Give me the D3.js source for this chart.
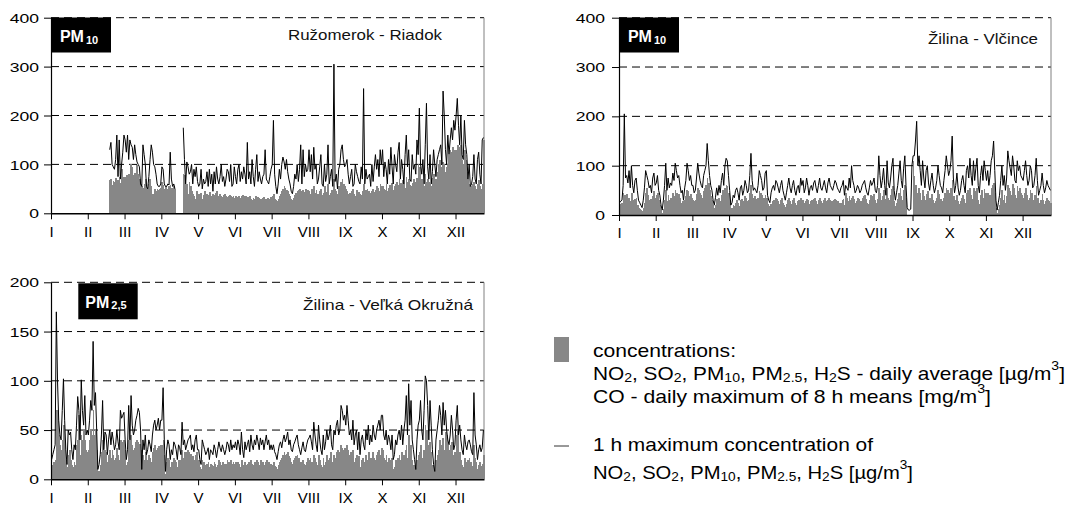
<!DOCTYPE html>
<meta charset="utf-8">
<style>
body{margin:0;background:#fff}
svg{display:block;font-family:"Liberation Sans",Arial,sans-serif}
.grid{stroke:#000;stroke-width:1;stroke-dasharray:8,5}
</style>
<body>
<script src="https://d3js.org/d3.v7.min.js"></script>
<script>

var width = 1076,
    height = 506;

var _ = null;

// x axis: one tick every 31 days, labels in roman numerals
var months = ["I","II","III","IV","V","VI","VII","VIII","IX","X","XI","XII"];
var tickDays = months.map((m, i) => i * 31);

var ticks400 = [0, 100, 200, 300, 400];
var ticks200 = [0, 50, 100, 150, 200];

// Ruzomerok - Riadok, PM10 daily average (rows = 31-day tick intervals)
var ruzAvg = [
 _,_,_,_,_,_,_,_,_,_,_,_,_,_,_,_,_,_,_,_,_,_,_,_,_,_,_,_,_,_,_,
 _,_,_,_,_,_,_,_,_,_,_,_,_,_,_,_,_,_,68,70,58,66,65,72,60,68,75,62,90,70,75,
 75,78,72,80,76,100,95,78,82,75,98,80,70,60,55,52,60,70,50,45,60,70,55,40,35,50,45,50,48,50,52,
 65,58,50,55,45,50,55,58,52,50,55,50,_,_,_,_,_,_,80,78,45,60,40,65,55,45,40,35,30,45,40,
 40,35,42,30,38,45,35,40,38,44,35,30,40,38,42,46,35,32,40,36,34,38,40,35,33,36,38,35,34,36,32,
 35,33,34,36,32,35,38,34,36,35,34,33,36,30,28,32,30,35,30,34,32,30,28,31,33,30,29,32,30,28,33,
 35,40,30,28,25,30,35,40,45,50,55,52,48,45,40,35,30,28,32,38,42,45,48,50,45,40,48,44,50,45,48,
 45,40,50,38,55,42,48,40,35,45,50,38,42,55,44,40,60,38,42,48,45,70,50,45,40,55,52,65,70,60,55,
 50,45,40,42,38,45,50,40,35,48,42,44,40,38,45,60,42,48,50,45,40,42,45,50,44,48,55,52,45,60,55,
 55,50,48,60,45,52,58,50,62,48,55,60,65,58,70,62,55,68,60,52,75,65,70,58,55,62,70,65,60,72,100,
 95,70,70,60,55,80,65,70,65,60,55,72,80,70,70,85,100,110,95,90,105,100,85,95,100,120,130,125,135,115,130,
 130,140,135,120,140,110,100,130,110,85,70,60,55,50,60,65,55,50,60,68,55,50,60,150
];
// Ruzomerok - Riadok, PM10 1 h maximum
var ruzMax = [
 _,_,_,_,_,_,_,_,_,_,_,_,_,_,_,_,_,_,_,_,_,_,_,_,_,_,_,_,_,_,_,
 _,_,_,_,_,_,_,_,_,_,_,_,_,_,_,_,_,_,130,145,100,95,90,110,160,75,150,70,100,125,160,
 150,125,160,110,150,140,135,110,140,120,105,100,95,60,55,140,120,100,55,50,75,110,140,125,100,95,80,60,55,55,60,
 95,90,60,55,55,60,58,125,70,55,60,50,_,_,_,_,_,_,175,110,60,105,95,80,85,100,60,90,75,95,65,
 55,60,90,50,70,60,65,85,55,90,60,80,45,85,60,95,70,60,75,100,65,75,55,70,90,85,65,100,55,60,95,
 75,60,90,100,65,85,70,95,80,60,145,70,85,60,110,75,55,90,120,65,85,70,60,75,80,130,70,65,60,75,90,
 100,190,80,55,40,60,90,70,100,115,105,90,110,85,70,60,45,40,55,80,70,100,65,90,140,60,130,75,100,85,90,
 130,85,120,70,135,90,100,60,70,95,120,60,55,100,65,80,140,60,75,90,55,305,65,80,50,90,100,130,140,110,95,
 100,110,80,60,75,90,55,60,100,85,75,65,60,95,70,255,60,90,70,75,80,55,100,65,95,120,90,110,75,130,100,
 130,75,105,90,60,110,80,135,95,60,120,100,85,125,145,70,110,90,60,120,160,95,130,70,65,120,90,100,80,150,120,
 215,100,80,110,60,140,225,95,70,120,60,85,130,100,75,110,120,130,140,100,250,200,130,100,160,120,150,175,150,190,170,
 200,235,180,140,200,120,110,190,140,120,70,100,55,60,75,120,70,60,110,125,80,60,150,155
];

// Zilina - Vlcince, PM10 daily average
var vlcAvg = [
 20,22,25,45,40,38,42,30,35,28,45,30,25,32,35,20,15,12,10,8,15,25,45,55,40,30,32,25,38,48,35,
 40,45,30,20,10,5,12,30,50,28,40,30,35,30,45,38,50,45,40,42,35,25,28,18,30,38,50,48,38,42,35,
 30,28,30,42,55,50,45,40,35,48,55,60,75,65,50,38,30,20,15,20,32,25,35,28,40,50,35,55,60,58,45,
 30,12,15,20,18,25,30,25,18,30,32,22,28,38,35,28,30,45,60,42,35,38,32,30,35,48,45,40,32,35,40,
 35,22,18,15,22,28,30,25,35,32,28,22,30,35,25,20,16,22,30,35,28,22,30,35,25,20,28,30,22,35,30,
 30,25,28,32,30,22,28,30,25,32,35,28,22,30,35,28,25,30,35,28,22,30,35,30,28,25,30,32,30,28,25,
 20,25,30,32,20,45,35,28,38,30,35,38,32,25,28,35,32,25,28,35,38,40,32,25,22,30,40,35,38,42,30,
 25,32,55,45,30,38,50,32,22,55,35,30,40,52,58,28,18,25,32,45,55,38,30,50,60,35,_,_,_,_,_,
 110,80,60,45,40,55,45,30,50,38,30,42,48,35,28,35,42,30,25,28,35,50,42,32,28,25,35,45,55,50,40,
 45,55,70,38,25,30,40,28,22,28,35,40,32,25,45,50,38,55,40,32,55,35,48,55,30,22,40,50,35,52,45,
 35,45,30,40,55,60,65,45,15,5,12,20,35,50,30,40,25,38,60,55,48,40,62,55,40,35,58,48,55,45,40,
 35,45,55,40,30,35,50,45,28,30,40,58,35,20,25,30,42,30,22,28,35,30,28,25
];
// Zilina - Vlcince, PM10 1 h maximum
var vlcMax = [
 25,28,30,60,205,75,80,65,90,55,100,60,45,70,75,50,30,25,20,15,30,55,90,80,70,55,60,45,75,85,60,
 65,80,50,40,20,10,30,60,105,50,75,55,65,60,85,70,105,90,75,80,60,45,50,30,55,70,105,90,70,80,60,
 60,45,50,75,105,85,70,60,55,80,90,100,145,110,80,60,50,30,20,35,55,40,60,45,70,85,60,100,115,110,80,
 50,20,25,40,35,50,55,45,30,55,60,40,50,70,60,45,50,80,125,70,50,55,50,45,60,90,80,70,50,55,85,
 90,40,30,25,45,55,60,50,70,65,55,45,60,70,50,40,30,45,60,75,55,45,60,70,50,40,55,60,45,75,60,
 70,45,55,75,60,40,55,60,50,65,70,55,45,60,75,55,50,60,70,55,45,65,75,60,55,50,60,70,65,55,50,
 45,55,60,70,40,60,55,50,75,55,100,70,60,45,50,60,55,45,50,60,65,70,55,45,40,55,70,60,65,75,50,
 45,60,120,80,55,70,95,60,40,110,65,55,75,100,115,50,30,45,60,85,110,70,55,95,120,60,15,10,10,12,100,
 120,120,150,190,100,120,90,60,110,75,55,90,100,65,50,70,85,60,45,55,70,100,80,60,55,45,70,90,120,100,80,
 90,110,160,75,45,60,85,55,40,50,70,80,60,45,90,100,75,115,80,60,110,70,95,115,60,45,80,100,70,110,90,
 70,90,60,80,110,120,150,90,30,10,25,40,70,100,60,80,50,75,130,110,95,80,120,100,70,65,110,90,100,80,75,
 70,90,110,80,60,70,100,90,55,60,80,115,70,40,50,60,85,60,45,55,70,60,55,50
];

// Zilina - Velka Okruzna, PM2.5 daily average
var vokAvg = [
 15,15,18,20,70,70,45,35,30,40,55,40,20,12,25,30,20,15,12,18,15,35,40,65,25,45,40,50,40,30,28,
 30,40,50,45,70,45,50,30,5,8,15,28,40,20,30,28,18,25,30,22,30,25,20,22,32,25,20,40,35,38,40,
 30,15,18,40,25,45,35,30,32,38,40,38,36,30,8,25,20,28,15,20,25,22,18,28,32,35,30,32,34,30,35,
 35,40,25,5,18,22,20,12,18,15,22,20,18,12,20,20,15,30,22,28,25,28,30,28,26,22,24,20,25,28,20,
 20,12,10,20,18,15,14,16,18,12,16,15,14,18,16,12,15,20,18,15,18,16,14,16,20,18,15,20,16,18,16,
 18,15,18,16,12,20,15,12,18,15,16,18,14,20,16,15,18,16,20,18,15,20,16,18,15,18,20,16,18,15,16,
 15,18,14,12,10,15,18,20,22,25,28,25,26,28,24,22,18,16,20,22,24,25,22,18,16,18,20,16,15,18,22,
 20,22,18,15,25,22,18,15,25,20,15,12,22,15,18,25,20,22,28,18,15,25,22,28,30,25,28,35,32,30,32,
 25,35,30,25,28,22,30,18,22,25,15,24,12,20,22,18,15,25,20,28,18,22,20,28,22,20,25,28,30,25,32,
 30,22,20,25,18,22,20,15,22,10,12,20,18,22,25,20,28,18,25,30,35,22,45,25,35,20,15,10,5,20,25,
 28,35,22,20,30,55,50,35,20,38,28,15,8,5,20,25,30,40,35,22,42,30,48,45,35,30,35,38,25,22,28,
 45,50,22,28,20,15,12,22,18,15,20,22,18,14,12,35,22,18,10,15,18,14,16,25
];
// Zilina - Velka Okruzna, PM2.5 1 h maximum
var vokMax = [
 20,25,30,35,170,100,60,45,40,70,102,60,30,15,50,45,48,30,20,35,30,55,84,70,40,101,70,55,85,45,50,
 45,60,80,70,140,75,88,50,10,15,25,45,80,30,48,45,25,40,50,35,48,40,30,35,50,38,30,70,62,65,68,
 40,20,30,75,40,85,55,45,50,60,65,72,68,50,10,40,30,45,25,30,40,35,28,45,55,60,50,55,62,50,60,
 60,93,40,8,30,40,35,20,30,25,38,35,30,20,35,32,25,58,35,40,30,35,40,42,45,30,35,28,40,45,30,
 30,20,15,40,35,30,25,28,32,20,30,28,25,35,30,22,30,38,32,28,35,30,25,30,38,35,28,40,30,35,32,
 38,30,40,35,25,48,30,22,38,30,35,40,28,45,35,30,40,35,45,38,30,42,35,40,30,38,45,35,40,30,35,
 30,35,28,25,20,28,35,38,32,40,45,38,42,48,35,40,30,28,35,38,42,45,35,30,25,32,38,30,28,35,40,
 42,45,38,30,58,45,35,28,55,40,30,25,45,30,38,50,40,45,55,35,30,50,45,55,60,45,50,75,70,60,65,
 55,75,60,45,50,40,60,35,45,50,30,48,25,40,45,35,30,50,40,55,35,45,38,55,45,40,50,55,60,50,65,
 65,45,40,50,35,45,40,30,45,20,25,40,35,45,50,40,55,35,50,60,85,45,97,55,80,40,30,20,10,40,55,
 60,80,50,40,70,105,100,75,40,80,55,30,15,8,40,50,60,75,65,45,78,55,70,50,40,35,45,65,50,30,35,
 60,75,45,55,40,30,25,45,35,30,38,40,35,28,25,88,45,35,20,30,35,28,32,50
];

var panels = [
  {avg: ruzAvg, max: ruzMax, left: 51, right: 484, top: 17.7, bottom: 213.3,
   yTicks: ticks400, labelGap: 12, title: "Ružomerok - Riadok", titleX: 288, titleY: 39.5, titleW: 154,
   box: {x: 51, y: 17.5, w: 60, h: 35}, sub: "10"},
  {avg: vlcAvg, max: vlcMax, left: 619, right: 1051, top: 17.7, bottom: 215,
   yTicks: ticks400, labelGap: 14, title: "Žilina - Vlčince", titleX: 928, titleY: 44, titleW: 110,
   box: {x: 619, y: 17.5, w: 60, h: 35}, sub: "10"},
  {avg: vokAvg, max: vokMax, left: 51, right: 484, top: 282.3, bottom: 479.3,
   yTicks: ticks200, labelGap: 12, title: "Žilina - Veľká Okružná", titleX: 303, titleY: 309.5, titleW: 170,
   box: {x: 78.3, y: 283.3, w: 59.4, h: 36}, sub: "2,5"}
];

var svg = d3.select("body").append("svg")
    .attr("width", width)
    .attr("height", height);

panels.forEach(function(p) {
    var g = svg.append("g");
    var nDays = 365;

    var x = d3.scaleLinear()
        .domain([0, nDays])
        .range([p.left, p.right]);

    var y = d3.scaleLinear()
        .domain([0, d3.max(p.yTicks)])
        .range([p.bottom, p.top]);

    // dashed gridlines
    g.selectAll(".grid")
        .data(p.yTicks.filter(d => d > 0))
      .enter().append("line")
        .attr("class", "grid")
        .attr("x1", p.left)
        .attr("x2", p.right)
        .attr("y1", d => y(d))
        .attr("y2", d => y(d));

    // right frame
    g.append("line")
        .attr("x1", p.right).attr("x2", p.right)
        .attr("y1", p.top).attr("y2", p.bottom)
        .attr("stroke", "#808080");

    // daily averages as bars
    var avg = p.avg.slice(0, nDays).map((v, i) => ({i: i, v: v})).filter(d => d.v != null);
    g.selectAll(".bar")
        .data(avg)
      .enter().append("rect")
        .attr("class", "bar")
        .attr("x", d => x(d.i))
        .attr("width", d => x(d.i + 1) - x(d.i) + 0.6)
        .attr("y", d => y(d.v))
        .attr("height", d => y(0) - y(d.v))
        .attr("shape-rendering", "crispEdges")
        .attr("fill", "#878787");

    // 1 h maxima as line
    var line = d3.line()
        .defined(d => d != null)
        .x((d, i) => x(i + 0.5))
        .y(d => y(d));

    g.append("path")
        .datum(p.max.slice(0, nDays))
        .attr("fill", "none")
        .attr("stroke", "#000")
        .attr("stroke-width", 1)
        .attr("stroke-linejoin", "round")
        .attr("d", line);

    // y axis
    var yAxis = g.append("g")
        .attr("transform", "translate(" + p.left + ",0)")
        .call(d3.axisLeft(y).tickValues(p.yTicks).tickSize(7).tickSizeOuter(0));
    yAxis.select(".domain").attr("stroke", "#000").attr("stroke-width", 1.2);
    yAxis.selectAll(".tick line").attr("stroke", "#000");
    yAxis.selectAll(".tick text")
        .attr("x", null)
        .attr("dy", null)
        .attr("transform", "translate(" + (-p.labelGap) + ",4.6) scale(1.35,1)")
        .attr("font-size", 13)
        .attr("font-family", "Liberation Sans, Arial, sans-serif")
        .attr("fill", "#000");

    // x axis
    var xAxis = g.append("g")
        .attr("transform", "translate(0," + p.bottom + ")")
        .call(d3.axisBottom(x).tickValues(tickDays).tickFormat((d, i) => months[i])
            .tickSize(6).tickSizeOuter(0).tickPadding(6.8));
    xAxis.select(".domain").attr("stroke", "#000").attr("stroke-width", 1.4);
    xAxis.selectAll(".tick line").attr("stroke", "#000");
    xAxis.selectAll(".tick text")
        .attr("font-size", 15)
        .attr("font-family", "Liberation Sans, Arial, sans-serif")
        .attr("fill", "#000");

    // black label box
    g.append("rect")
        .attr("x", p.box.x).attr("y", p.box.y)
        .attr("width", p.box.w).attr("height", p.box.h)
        .attr("fill", "#000");
    var lbl = g.append("text")
        .attr("x", p.box.x + p.box.w / 2 - 2)
        .attr("y", p.box.y + 24.5)
        .attr("text-anchor", "middle")
        .attr("fill", "#fff")
        .attr("font-weight", "bold");
    lbl.append("tspan").attr("font-size", 16).text("PM");
    lbl.append("tspan").attr("font-size", 11).attr("dx", 2).attr("dy", 1.5).text(p.sub);

    // station name
    g.append("text")
        .attr("x", p.titleX)
        .attr("y", p.titleY)
        .attr("font-size", 15)
        .attr("textLength", p.titleW)
        .attr("lengthAdjust", "spacingAndGlyphs")
        .attr("fill", "#111")
        .text(p.title);
});

// legend
var legend = svg.append("g");

legend.append("rect")
    .attr("x", 554).attr("y", 337)
    .attr("width", 15).attr("height", 25)
    .attr("fill", "#878787");

legend.append("line")
    .attr("x1", 554).attr("x2", 569)
    .attr("y1", 446).attr("y2", 446)
    .attr("stroke", "#333");

// each line: list of [text, kind] parts, kind: n normal, b sub, p sup
var legendLines = [
  {y: 356.7, w: 143, parts: [["concentrations:", "n"]]},
  {y: 380, w: 472, parts: [["NO", "n"], ["2", "b"], [", SO", "n"], ["2", "b"], [", PM", "n"], ["10", "b"],
                   [", PM", "n"], ["2.5", "b"], [", H", "n"], ["2", "b"], ["S - daily average [µg/m", "n"], ["3", "p"], ["]", "n"]]},
  {y: 402.7, w: 398, parts: [["CO - daily maximum of 8 h means [mg/m", "n"], ["3", "p"], ["]", "n"]]},
  {y: 451, w: 280, parts: [["1 h maximum concentration of", "n"]]},
  {y: 479, w: 320, parts: [["NO", "n"], ["2", "b"], [", SO", "n"], ["2", "b"], [", PM", "n"], ["10", "b"],
                   [", PM", "n"], ["2.5", "b"], [", H", "n"], ["2", "b"], ["S [µg/m", "n"], ["3", "p"], ["]", "n"]]}
];

legendLines.forEach(function(l) {
    var t = legend.append("text")
        .attr("x", 593)
        .attr("y", l.y)
        .attr("font-size", 18.5)
        .attr("textLength", l.w)
        .attr("lengthAdjust", "spacingAndGlyphs")
        .attr("fill", "#000");
    var shift = 0;
    l.parts.forEach(function(pt) {
        var target = pt[1] == "b" ? 2 : pt[1] == "p" ? -10 : 0;
        t.append("tspan")
            .attr("dy", target - shift)
            .attr("font-size", pt[1] == "n" ? 18.5 : 12.5)
            .text(pt[0]);
        shift = target;
    });
});

</script>
